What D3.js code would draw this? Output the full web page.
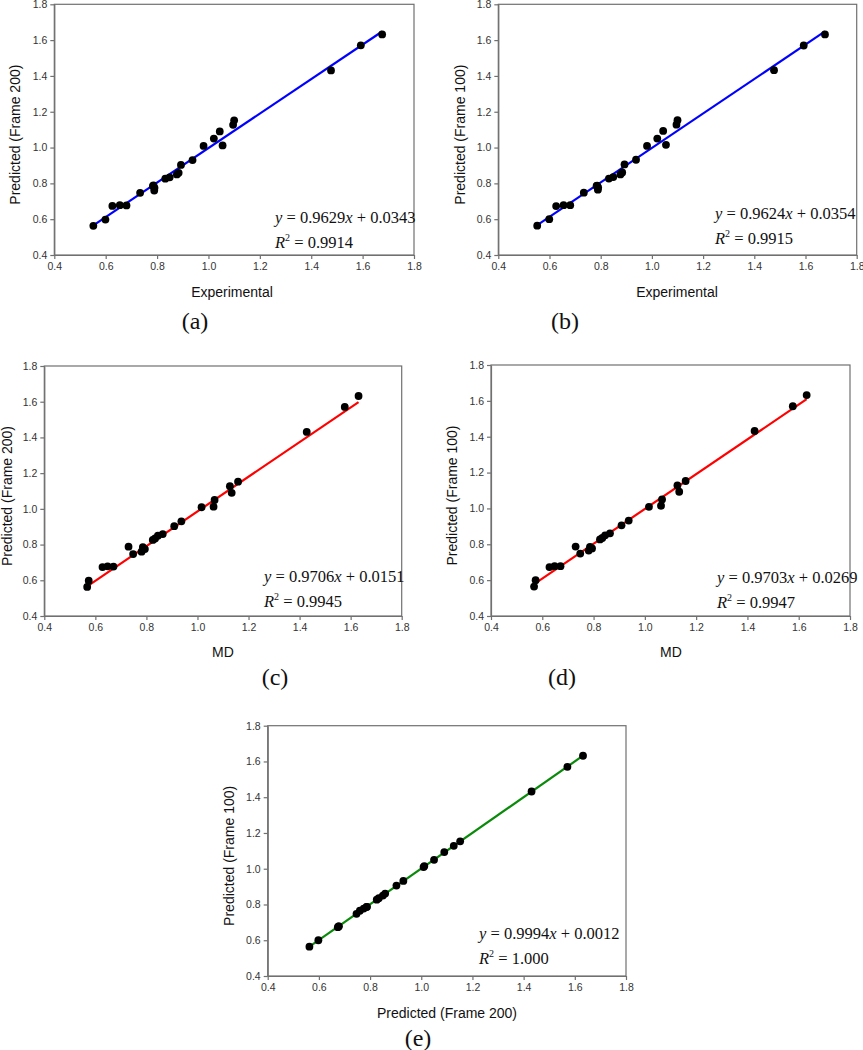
<!DOCTYPE html>
<html>
<head>
<meta charset="utf-8">
<script src="https://cdn.jsdelivr.net/npm/d3@7"></script>
<style>
  html, body { margin: 0; padding: 0; background: #fff; }
  svg { display: block; }
</style>
</head>
<body>
<svg id="chart" width="863" height="1050"></svg>
<script>
// ---- Data ----
const experimental = [0.552,0.599,0.626,0.655,0.681,0.734,0.789,0.790,0.784,0.786,0.832,0.849,0.877,0.884,0.893,0.938,0.981,1.055,1.021,1.044,1.096,1.100,1.477,1.593,1.676];
const md           = [0.568,0.574,0.628,0.648,0.671,0.748,0.781,0.794,0.786,0.730,0.825,0.834,0.845,0.864,0.909,0.937,1.016,1.063,1.067,1.134,1.127,1.159,1.428,1.577,1.631];
const pred200      = [0.563,0.598,0.674,0.678,0.677,0.747,0.760,0.775,0.786,0.788,0.826,0.834,0.850,0.859,0.903,0.930,1.009,1.012,1.050,1.090,1.127,1.152,1.431,1.571,1.632];
const pred100      = [0.564,0.600,0.673,0.678,0.678,0.748,0.765,0.777,0.786,0.787,0.827,0.835,0.850,0.861,0.906,0.932,1.009,1.015,1.050,1.093,1.128,1.153,1.432,1.570,1.632];

const tickValues = [0.4,0.6,0.8,1.0,1.2,1.4,1.6,1.8];
const tickLabels = ["0.4","0.6","0.8","1.0","1.2","1.4","1.6","1.8"];

const panelLetters = ["(a)","(b)","(c)","(d)","(e)"];
const xTitles = ["Experimental","Experimental","MD","MD","Predicted (Frame 200)"];
const yTitles = ["Predicted (Frame 200)","Predicted (Frame 100)","Predicted (Frame 200)","Predicted (Frame 100)","Predicted (Frame 100)"];
const slopes     = [0.9629, 0.9624, 0.9706, 0.9703, 0.9994];
const intercepts = [0.0343, 0.0354, 0.0151, 0.0269, 0.0012];
const slopeText     = ["0.9629","0.9624","0.9706","0.9703","0.9994"];
const interceptText = ["0.0343","0.0354","0.0151","0.0269","0.0012"];
const r2Text     = ["0.9914","0.9915","0.9945","0.9947","1.000"];
const lineColors = ["#0000ff","#0000ff","#ff0000","#ff0000","#0a8a0a"];
const xSeries = [experimental, experimental, md, md, pred200];
const ySeries = [pred200, pred100, pred200, pred100, pred100];

// ---- Layout ----
const layout = [
  {l:54.3, r:414,   t:4.3, b:255, ytx:15,  xtx:232, xty:292,  lx:195, ly:321, ex:275, ey:217},
  {l:498.3,r:856.7, t:4.3, b:255, ytx:460, xtx:677, xty:292,  lx:565, ly:321, ex:715, ey:213},
  {l:44.3, r:401.7, t:366, b:616, ytx:7,   xtx:223, xty:652,  lx:275, ly:677, ex:264, ey:576},
  {l:491,  r:850,   t:365, b:616, ytx:452, xtx:671, xty:652,  lx:562, ly:677, ex:717, ey:577},
  {l:267.7,r:626,   t:725.7,b:976,ytx:229, xtx:447, xty:1013, lx:418, ly:1038, ex:479, ey:933}
];

const svg = d3.select("#chart");
const sans = "'Liberation Sans', Arial, sans-serif";
const serif = "'Liberation Serif', 'Times New Roman', serif";

layout.forEach((L, i) => {
  const x = d3.scaleLinear().domain([0.4, 1.8]).range([L.l, L.r]);
  const y = d3.scaleLinear().domain([0.4, 1.8]).range([L.b, L.t]);
  const g = svg.append("g");

  // frame
  g.append("rect")
    .attr("x", L.l).attr("y", L.t)
    .attr("width", L.r - L.l).attr("height", L.b - L.t)
    .attr("fill", "none").attr("stroke", "#707070").attr("stroke-width", 1.2);

  const fmt = (d) => tickLabels[tickValues.indexOf(d)];
  const xa = g.append("g").attr("transform", `translate(0,${L.b})`)
    .call(d3.axisBottom(x).tickValues(tickValues).tickFormat(fmt).tickSize(4).tickSizeOuter(0).tickPadding(4));
  const ya = g.append("g").attr("transform", `translate(${L.l},0)`)
    .call(d3.axisLeft(y).tickValues(tickValues).tickFormat(fmt).tickSize(4).tickSizeOuter(0).tickPadding(3));
  [xa, ya].forEach(a => {
    a.select(".domain").attr("stroke", "#707070").attr("stroke-width", 1.2);
    a.selectAll(".tick line").attr("stroke", "#707070").attr("stroke-width", 1.2);
    a.selectAll(".tick text").attr("fill", "#333").attr("font-family", sans).attr("font-size", 10.5);
  });

  // fitted line
  const xs = xSeries[i], ys = ySeries[i];
  const x0 = d3.min(xs), x1 = d3.max(xs);
  g.append("line")
    .attr("x1", x(x0)).attr("y1", y(slopes[i] * x0 + intercepts[i]))
    .attr("x2", x(x1)).attr("y2", y(slopes[i] * x1 + intercepts[i]))
    .attr("stroke", lineColors[i]).attr("stroke-width", 2.2);

  // points
  g.selectAll("circle.pt").data(d3.range(xs.length)).enter().append("circle")
    .attr("class", "pt")
    .attr("cx", k => x(xs[k])).attr("cy", k => y(ys[k]))
    .attr("r", 3.9).attr("fill", "#000");

  // axis titles
  g.append("text").attr("x", L.xtx).attr("y", L.xty).attr("dy", "0.35em")
    .attr("text-anchor", "middle").attr("font-family", sans).attr("font-size", 14)
    .attr("fill", "#111").text(xTitles[i]);
  g.append("text")
    .attr("transform", `translate(${L.ytx},${(L.t + L.b) / 2 + 5}) rotate(-90)`)
    .attr("dy", "0.35em").attr("text-anchor", "middle")
    .attr("font-family", sans).attr("font-size", 14).attr("fill", "#111").text(yTitles[i]);

  // equation
  const eq = g.append("text").attr("x", L.ex).attr("y", L.ey + 5.5)
    .attr("font-family", serif).attr("font-size", 16.5).attr("fill", "#111");
  eq.append("tspan").attr("font-style", "italic").text("y");
  eq.append("tspan").text(" = " + slopeText[i]);
  eq.append("tspan").attr("font-style", "italic").text("x");
  eq.append("tspan").text(" + " + interceptText[i]);

  const r2 = g.append("text").attr("x", L.ex).attr("y", L.ey + 30.5)
    .attr("font-family", serif).attr("font-size", 16.5).attr("fill", "#111");
  r2.append("tspan").attr("font-style", "italic").text("R");
  r2.append("tspan").attr("font-size", 10).attr("dy", -7).text("2");
  r2.append("tspan").attr("dy", 7).text(" = " + r2Text[i]);

  // panel letter
  g.append("text").attr("x", L.lx).attr("y", L.ly).attr("dy", "0.35em")
    .attr("text-anchor", "middle").attr("font-family", serif).attr("font-size", 24)
    .attr("fill", "#111").text(panelLetters[i]);
});
</script>
</body>
</html>
